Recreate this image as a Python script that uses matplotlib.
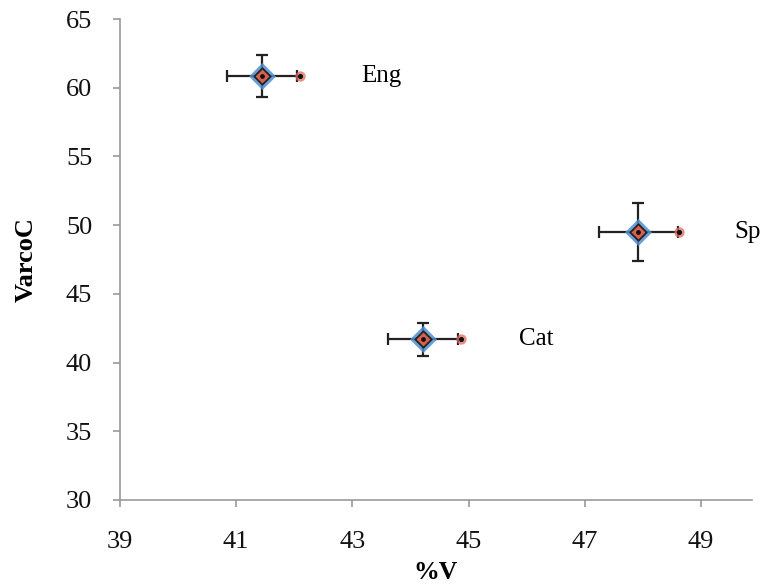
import matplotlib
matplotlib.use("Agg")
import matplotlib.pyplot as plt

labels = ["Eng", "Cat", "Sp"]
pct_v = [41.45, 44.22, 47.92]
varco_c = [60.85, 41.7, 49.5]
xerr = [0.6, 0.6, 0.68]
yerr = [1.55, 1.2, 2.12]
second_x = [42.1, 44.87, 48.62]
label_x = [43.16, 45.87, 49.57]

plt.rcParams['font.family'] = ['Liberation Serif', 'DejaVu Serif']

fig = plt.figure(figsize=(7.66, 5.88), dpi=100)
ax = fig.add_axes([120/766, 1-500/588, (752-120)/766, (500-19)/588])

ax.errorbar(pct_v, varco_c, xerr=xerr, yerr=yerr, fmt='none', ecolor='#222222',
            elinewidth=1.6, capsize=4.5, capthick=1.6, zorder=2)
ax.scatter(pct_v, varco_c, marker='D', s=190, color='#4f8fd0', alpha=0.85, zorder=3, linewidths=0)
ax.scatter(pct_v, varco_c, marker='D', s=70, color='#d9604e', edgecolors='#222222', linewidths=1.3, zorder=4)
ax.scatter(pct_v, varco_c, marker='o', s=6, color='#111111', zorder=5)
ax.scatter(second_x, varco_c, marker='o', s=55, color='#e06a5c', alpha=0.75, zorder=3, linewidths=0)
ax.scatter(second_x, varco_c, marker='o', s=7, color='#111111', zorder=5)

for lx, y, t in zip(label_x, varco_c, labels):
    ax.text(lx, y, t, fontsize=18, va='center', ha='left')

ax.set_xlim(39, 49.88)
ax.set_ylim(30, 65)
ax.set_xticks([39, 41, 43, 45, 47, 49])
ax.set_yticks(range(30, 66, 5))
for s in ['top', 'right']:
    ax.spines[s].set_visible(False)
for s in ['left', 'bottom']:
    ax.spines[s].set_color('#999999')
    ax.spines[s].set_linewidth(1.2)
ax.tick_params(axis='both', colors='#999999', labelcolor='#111111', labelsize=19, length=5, width=1.2)
ax.tick_params(axis='x', pad=17)
ax.tick_params(axis='y', pad=15)
ax.set_xlabel('%V', fontsize=18.5, fontweight='bold', labelpad=6)
ax.set_ylabel('VarcoC', fontsize=19, fontweight='bold', labelpad=20)

fig.savefig('out.png', dpi=100)
